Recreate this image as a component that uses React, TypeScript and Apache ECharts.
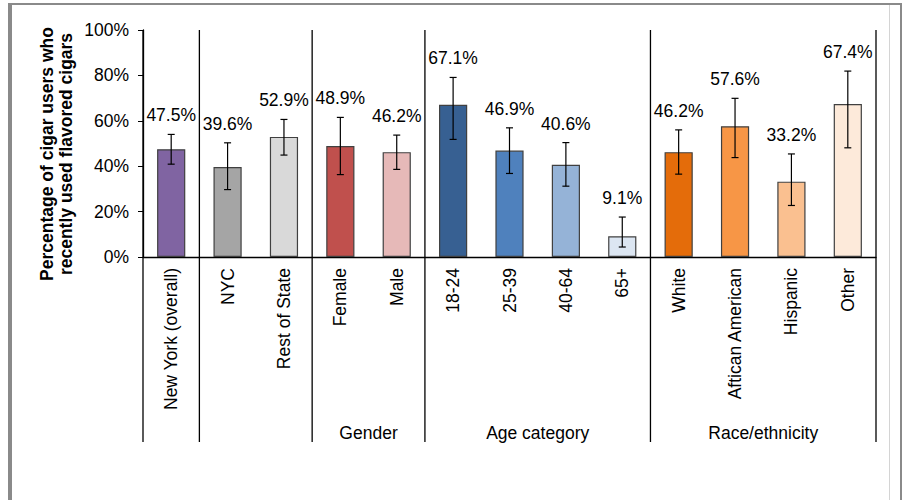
import React, { useEffect, useRef } from "react";
import * as echarts from "echarts";

const categories = [
  "New York (overall)", "NYC", "Rest of State", "Female", "Male",
  "18-24", "25-39", "40-64", "65+",
  "White", "Aftican American", "Hispanic", "Other",
];
const values = [47.5, 39.6, 52.9, 48.9, 46.2, 67.1, 46.9, 40.6, 9.1, 46.2, 57.6, 33.2, 67.4];
const lower = [40.9, 29.7, 44.9, 36.3, 38.6, 51.8, 36.8, 31.2, 4.4, 36.5, 43.8, 22.7, 48.1];
const upper = [54.0, 50.3, 60.6, 61.5, 53.7, 79.1, 56.9, 50.4, 17.6, 56.0, 69.9, 45.4, 81.9];
const colors = [
  "#8064A2", "#A5A5A5", "#D9D9D9", "#C0504D", "#E6B9B8",
  "#376092", "#4F81BD", "#95B3D7", "#DCE6F2",
  "#E46C0A", "#F79646", "#FAC090", "#FDEADA",
];
const groupNames = ["", "", "Gender", "Age category", "Race/ethnicity"];
const groupStart = [0, 1, 3, 5, 9];
const groupEnd = [0, 2, 4, 8, 12];
const yTicks = [0, 20, 40, 60, 80, 100];

const FONT = "Liberation Sans, Arial, sans-serif";
const FS = 17.5;

export default function App() {
  const ref = useRef<HTMLDivElement>(null);
  useEffect(() => {
    if (!ref.current) return;
    const chart = echarts.init(ref.current, null, { renderer: "svg" });
    const errData = values.map((v, i) => [i, lower[i], upper[i], v]);
    const grpData = groupStart.map((s, i) => [s, groupEnd[i], 0]);
    chart.setOption({
      animation: false,
      backgroundColor: "#fff",
      textStyle: { fontFamily: FONT },
      grid: { left: 143, right: 26, top: 30, bottom: 243, containLabel: false },
      xAxis: {
        type: "category",
        data: categories,
        axisLine: { lineStyle: { color: "#000", width: 1.3 } },
        axisTick: { show: false },
        axisLabel: {
          rotate: 90, interval: 0, margin: 11,
          fontSize: FS, color: "#000", fontFamily: FONT,
        },
      },
      yAxis: {
        type: "value",
        min: yTicks[0],
        max: yTicks[yTicks.length - 1],
        interval: 20,
        axisLine: { show: true, lineStyle: { color: "#000", width: 1.3 } },
        axisTick: { show: true, length: 5, lineStyle: { color: "#000" } },
        axisLabel: { formatter: "{value}%", fontSize: FS, color: "#000", margin: 14, fontFamily: FONT },
        splitLine: { show: false },
      },
      graphic: [
        { type: "rect", shape: { x: 8, y: 3, width: 4, height: 497 }, style: { fill: "#8a8a8a" }, silent: true },
        { type: "rect", shape: { x: 8, y: 3, width: 894, height: 2 }, style: { fill: "#8a8a8a" }, silent: true },
        { type: "rect", shape: { x: 900, y: 3, width: 2, height: 497 }, style: { fill: "#8a8a8a" }, silent: true },
        { type: "line", shape: { x1: 889.5, y1: 5, x2: 889.5, y2: 500 }, style: { stroke: "#d4d4d4", lineWidth: 1 }, silent: true },
        {
          type: "text",
          x: 56, y: 154,
          rotation: Math.PI / 2,
          style: {
            text: "Percentage of cigar users who\nrecently used flavored cigars",
            fontSize: FS, fontWeight: "bold", fontFamily: FONT, fill: "#000",
            align: "center", verticalAlign: "middle", lineHeight: 19,
          },
        },
      ],
      series: [
        {
          type: "bar",
          barWidth: "50%",
          data: values.map((v, i) => ({
            value: v,
            itemStyle: { color: colors[i], borderColor: "#404040", borderWidth: 1.2 },
          })),
          z: 2,
        },
        {
          type: "custom",
          z: 5,
          encode: { x: 0, y: [1, 2] },
          data: errData,
          renderItem: (params: any, api: any) => {
            const idx = api.value(0);
            const pHi = api.coord([idx, api.value(2)]);
            const pLo = api.coord([idx, api.value(1)]);
            const x = pHi[0];
            const cap = 3.5;
            const st = { stroke: "#000", lineWidth: 1.2 };
            return {
              type: "group",
              children: [
                { type: "line", shape: { x1: x, y1: pHi[1], x2: x, y2: pLo[1] }, style: st },
                { type: "line", shape: { x1: x - cap, y1: pHi[1], x2: x + cap, y2: pHi[1] }, style: st },
                { type: "line", shape: { x1: x - cap, y1: pLo[1], x2: x + cap, y2: pLo[1] }, style: st },
                {
                  type: "text",
                  style: {
                    text: api.value(3).toFixed(1) + "%",
                    x, y: pHi[1] - 19,
                    align: "center", verticalAlign: "middle",
                    fontSize: FS, fontFamily: FONT, fill: "#000",
                  },
                },
              ],
            };
          },
        },
        {
          type: "custom",
          z: 6,
          clip: false,
          encode: { x: [0, 1], y: 2 },
          data: grpData,
          renderItem: (params: any, api: any) => {
            const s = api.value(0);
            const e = api.value(1);
            const band = api.size([1, 0])[0];
            const left = api.coord([s, 0])[0] - band / 2;
            const right = api.coord([e, 0])[0] + band / 2;
            const base = api.coord([s, 0])[1];
            const top = api.coord([s, 100])[1];
            const bottom = base + 185;
            const st = { stroke: "#000", lineWidth: 1.3 };
            const children: any[] = [
              { type: "line", shape: { x1: left, y1: top, x2: left, y2: bottom }, style: st },
            ];
            if (params.dataIndex === groupStart.length - 1) {
              children.push({ type: "line", shape: { x1: right, y1: top, x2: right, y2: bottom }, style: st });
            }
            const name = groupNames[params.dataIndex];
            if (name) {
              children.push({
                type: "text",
                style: {
                  text: name, x: (left + right) / 2, y: base + 176,
                  align: "center", verticalAlign: "middle",
                  fontSize: FS, fontFamily: FONT, fill: "#000",
                },
              });
            }
            return { type: "group", children };
          },
        },
      ],
    });
    return () => chart.dispose();
  }, []);
  return (
    <div
      ref={ref}
      style={{ position: "fixed", left: 0, top: 0, width: 902, height: 500 }}
    />
  );
}
